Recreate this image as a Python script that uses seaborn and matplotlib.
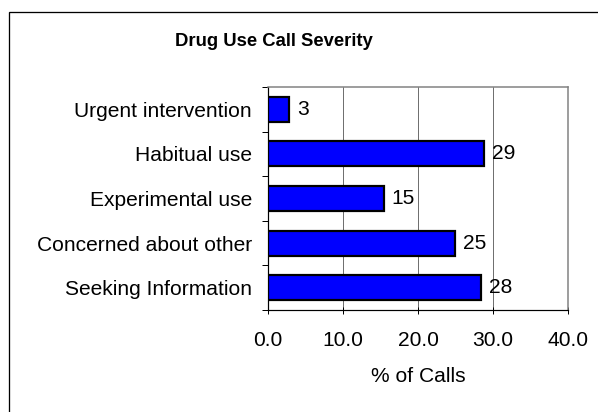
import matplotlib
matplotlib.use("Agg")
import matplotlib.pyplot as plt
import seaborn as sns
import pandas as pd
from matplotlib.patches import Rectangle

categories = ["Urgent intervention", "Habitual use", "Experimental use",
              "Concerned about other", "Seeking Information"]
values = [2.8, 28.8, 15.4, 24.9, 28.4]
value_labels = ["3", "29", "15", "25", "28"]
x_ticks = [0, 10, 20, 30, 40]
x_tick_labels = ["0.0", "10.0", "20.0", "30.0", "40.0"]
title = "Drug Use Call Severity"
x_label = "% of Calls"

sns.set_style("white")
plt.rcParams["font.family"] = ["Liberation Sans", "DejaVu Sans"]
plt.rcParams.update({"text.color": "black", "axes.labelcolor": "black",
                     "xtick.color": "black", "ytick.color": "black"})

FS = 21
W, H = 598, 412
fig = plt.figure(figsize=(W / 72, H / 72), dpi=72)
ax = fig.add_axes([268 / W, 1 - 310 / H, 300 / W, (310 - 87) / H])

df = pd.DataFrame({"cat": categories, "val": values})
sns.barplot(data=df, x="val", y="cat", order=categories, orient="h",
            color="#0000FF", saturation=1, width=0.56,
            edgecolor="black", linewidth=2.2, ax=ax, zorder=3)

ax.set_xlim(0, 40)
ax.set_ylim(4.5, -0.5)
ax.set_xticks(x_ticks)
ax.set_xticklabels(x_tick_labels, fontsize=FS)
ax.set_yticks(range(len(categories)))
ax.set_yticklabels(categories, fontsize=FS)
ax.tick_params(axis="y", which="major", left=True, length=0, pad=16)
ax.set_yticks([i - 0.5 for i in range(len(categories) + 1)], minor=True)
ax.tick_params(axis="y", which="minor", left=True, length=6, width=1,
               direction="out", color="black")
ax.tick_params(axis="x", which="major", bottom=True, length=7, width=1,
               direction="inout", pad=18, color="black")
ax.set_ylabel("")
ax.set_xlabel(x_label, fontsize=FS, labelpad=16)

ax.xaxis.grid(True, color="#707070", linewidth=1, zorder=0)
ax.yaxis.grid(False)
ax.set_axisbelow(True)

for side in ["left", "bottom"]:
    ax.spines[side].set_color("black")
    ax.spines[side].set_linewidth(1.2)
for side in ["top", "right"]:
    ax.spines[side].set_color("#808080")
    ax.spines[side].set_linewidth(1.5)
    ax.spines[side].set_visible(True)

for i, (v, lab) in enumerate(zip(values, value_labels)):
    ax.annotate(lab, xy=(v, i), xytext=(8, 0), textcoords="offset points",
                ha="left", va="center", fontsize=FS, zorder=4)

fig.text(273.5 / W, 1 - 41 / H, title, ha="center", va="center",
         fontsize=18.5, fontweight="bold")

fig.patches.append(Rectangle((9 / W, -0.1), 2, 1.1 - 12 / H,
                             transform=fig.transFigure, fill=False,
                             edgecolor="black", linewidth=1.3))

fig.savefig("out.png", dpi=72)
